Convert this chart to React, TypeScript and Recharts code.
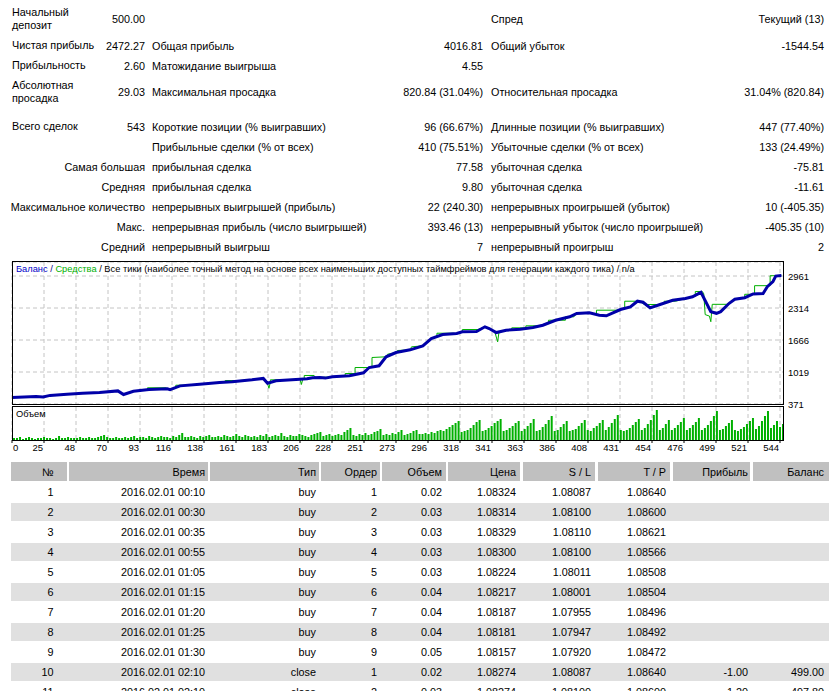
import React from "react";
import { LineChart, Line, ComposedChart, Bar, XAxis, YAxis, CartesianGrid } from "recharts";

const FONT = '"Liberation Sans", Arial, sans-serif';

// Balance curve: trade number -> account balance
const balanceTrade = [
  0, 17, 22, 27, 39, 50, 62, 75, 79, 86,
  97, 110, 112, 119, 133, 147, 156, 170, 178, 181,
  187, 204, 209, 213, 218, 222, 227, 239, 249, 253,
  260, 265, 272, 282, 291, 297, 305, 315, 319, 329,
  335, 338, 343, 350, 360, 369, 376, 385, 395, 400,
  409, 416, 421, 431, 438, 443, 447, 452, 459, 468,
  477, 482, 488, 495, 499, 502, 508, 512, 519, 525,
  532, 535, 539, 541, 545,
];
const balanceValue = [
  500, 525, 515, 545, 568, 588, 604, 636, 563, 628,
  662, 680, 660, 738, 770, 805, 820, 860, 888, 790,
  840, 873, 880, 900, 907, 895, 921, 941, 1002, 1109,
  1144, 1326, 1413, 1467, 1548, 1696, 1777, 1797, 1832, 1838,
  1933, 1898, 1817, 1864, 1884, 1919, 1965, 2066, 2135, 2202,
  2216, 2168, 2155, 2283, 2337, 2451, 2430, 2317, 2384, 2471,
  2505, 2540, 2631, 2239, 2206, 2239, 2409, 2490, 2522, 2597,
  2605, 2745, 2850, 2960, 2972,
];

// Equity curve (floating result while positions are open)
const equityTrade = [
  0, 17, 22, 27, 39, 50, 62, 75, 79, 86,
  96, 96, 109, 110, 112, 116, 116, 122, 133, 147,
  151, 151, 161, 170, 178, 181, 182, 183, 183, 189,
  204, 205, 206, 207, 207, 214, 215, 227, 236, 236,
  243, 243, 253, 255, 255, 265, 266, 272, 273, 282,
  283, 291, 297, 301, 301, 312, 315, 319, 319, 330,
  335, 338, 342, 344, 345, 350, 354, 354, 362, 364,
  364, 372, 376, 380, 380, 392, 392, 398, 400, 409,
  414, 414, 428, 431, 434, 434, 443, 445, 450, 450,
  459, 462, 462, 470, 477, 484, 484, 489, 490, 491,
  494, 495, 496, 506, 508, 512, 519, 519, 526, 526,
  537, 537, 542, 545,
];
const equityValue = [
  500, 525, 515, 545, 568, 588, 604, 636, 563, 628,
  660, 699, 699, 680, 660, 700, 751, 751, 770, 805,
  812, 846, 846, 860, 888, 780, 690, 810, 860, 860,
  873, 766, 878, 878, 948, 948, 903, 921, 937, 988,
  988, 1109, 1109, 1120, 1312, 1326, 1378, 1413, 1453, 1467,
  1528, 1548, 1696, 1740, 1803, 1803, 1797, 1832, 1878, 1878,
  1933, 1898, 1830, 1629, 1835, 1864, 1872, 1912, 1912, 1905,
  1953, 1953, 1965, 1995, 2066, 2066, 2135, 2135, 2202, 2216,
  2190, 2269, 2269, 2283, 2300, 2451, 2451, 2440, 2350, 2384,
  2384, 2410, 2451, 2451, 2505, 2550, 2647, 2647, 2600, 2180,
  2150, 2036, 2388, 2388, 2409, 2490, 2522, 2591, 2591, 2765,
  2765, 2967, 2967, 2972,
];

// Lot size of the deals, in trade order
const volumeLots = [
  0.02, 0.02, 0.03, 0.01, 0.02, 0.03, 0.02, 0.01, 0.02, 0.02, 0.03, 0.02, 0.02, 0.01, 0.02,
  0.04, 0.02, 0.02, 0.03, 0.02, 0.02, 0.02, 0.03, 0.02, 0.02, 0.03, 0.02, 0.02, 0.03, 0.04,
  0.05, 0.03, 0.02, 0.02, 0.03, 0.02, 0.02, 0.03, 0.02, 0.03, 0.04, 0.02, 0.03,
  0.03, 0.02, 0.04, 0.03, 0.02, 0.03, 0.04, 0.03, 0.03, 0.02, 0.04, 0.03, 0.05, 0.07, 0.03,
  0.03, 0.04, 0.03, 0.02, 0.04, 0.03, 0.04, 0.05, 0.03, 0.03, 0.04, 0.03, 0.05, 0.04, 0.03,
  0.04, 0.06, 0.04, 0.03, 0.05, 0.04, 0.03,
  0.04, 0.03, 0.05, 0.04, 0.06, 0.03, 0.04, 0.05, 0.04, 0.07, 0.04, 0.03, 0.05, 0.04, 0.04,
  0.06, 0.05, 0.04, 0.03, 0.05, 0.06, 0.07, 0.08, 0.04, 0.05, 0.06,
  0.04, 0.05, 0.06, 0.05, 0.08, 0.10, 0.12, 0.05, 0.04, 0.06, 0.05, 0.07, 0.05, 0.06, 0.08,
  0.09, 0.11, 0.05, 0.06, 0.05, 0.07, 0.06, 0.08, 0.10, 0.05, 0.06, 0.07, 0.09, 0.10, 0.06,
  0.06, 0.07, 0.06, 0.08, 0.07, 0.09, 0.10, 0.09, 0.11, 0.13, 0.15, 0.17, 0.19,
  0.08, 0.09, 0.10, 0.12, 0.15, 0.18, 0.20,
  0.09, 0.10, 0.12, 0.14, 0.17, 0.19, 0.21,
  0.09, 0.10, 0.12, 0.14, 0.17, 0.19,
  0.09, 0.11, 0.14, 0.17, 0.21,
  0.09, 0.10, 0.13, 0.16, 0.20, 0.24,
  0.09, 0.10, 0.13, 0.16, 0.19,
  0.09, 0.10, 0.11, 0.14, 0.17, 0.20,
  0.10, 0.09, 0.12, 0.14, 0.17, 0.20,
  0.10, 0.13, 0.17, 0.21, 0.25,
  0.10, 0.09, 0.10, 0.12, 0.15, 0.18, 0.21,
  0.10, 0.12, 0.16, 0.20, 0.25, 0.30,
  0.10, 0.12, 0.16, 0.20,
  0.10, 0.12, 0.15, 0.18, 0.22,
  0.10, 0.12, 0.15, 0.18, 0.22,
  0.10, 0.12, 0.15, 0.19, 0.24, 0.29,
  0.10, 0.11, 0.14, 0.17, 0.20,
  0.10, 0.09, 0.11, 0.13, 0.16, 0.19, 0.22,
  0.11, 0.14, 0.19, 0.24, 0.29,
  0.12, 0.15, 0.19, 0.13, 0.16,
];

const tradeTickLabels = [
  0, 25, 48, 70, 93, 116, 138, 161, 183, 206, 228, 251, 273,
  296, 318, 341, 363, 386, 408, 431, 454, 476, 499, 521, 544,
];
const balanceTicks = [371, 1018.5, 1666, 2313.5, 2961];

const statRows = [
  ["Начальный\nдепозит", "500.00", "", "", "Спред", "Текущий (13)"],
  ["Чистая прибыль", "2472.27", "Общая прибыль", "4016.81", "Общий убыток", "-1544.54"],
  ["Прибыльность", "2.60", "Матожидание выигрыша", "4.55", "", ""],
  ["Абсолютная\nпросадка", "29.03", "Максимальная просадка", "820.84 (31.04%)", "Относительная просадка", "31.04% (820.84)"],
  ["Всего сделок", "543", "Короткие позиции (% выигравших)", "96 (66.67%)", "Длинные позиции (% выигравших)", "447 (77.40%)"],
  ["", "", "Прибыльные сделки (% от всех)", "410 (75.51%)", "Убыточные сделки (% от всех)", "133 (24.49%)"],
  ["Самая большая", "", "прибыльная сделка", "77.58", "убыточная сделка", "-75.81"],
  ["Средняя", "", "прибыльная сделка", "9.80", "убыточная сделка", "-11.61"],
  ["Максимальное количество", "", "непрерывных выигрышей (прибыль)", "22 (240.30)", "непрерывных проигрышей (убыток)", "10 (-405.35)"],
  ["Макс.", "", "непрерывная прибыль (число выигрышей)", "393.46 (13)", "непрерывный убыток (число проигрышей)", "-405.35 (10)"],
  ["Средний", "", "непрерывный выигрыш", "7", "непрерывный проигрыш", "2"],
];
const statRowY = [19, 46, 66, 92, 127, 147, 167, 187, 207, 227, 247];

const dealHeader = ["№", "Время", "Тип", "Ордер", "Объем", "Цена", "S / L", "T / P", "Прибыль", "Баланс"];
const dealRows = [
  ["1", "2016.02.01 00:10", "buy", "1", "0.02", "1.08324", "1.08087", "1.08640", "", ""],
  ["2", "2016.02.01 00:30", "buy", "2", "0.03", "1.08314", "1.08100", "1.08600", "", ""],
  ["3", "2016.02.01 00:35", "buy", "3", "0.03", "1.08329", "1.08110", "1.08621", "", ""],
  ["4", "2016.02.01 00:55", "buy", "4", "0.03", "1.08300", "1.08100", "1.08566", "", ""],
  ["5", "2016.02.01 01:05", "buy", "5", "0.03", "1.08224", "1.08011", "1.08508", "", ""],
  ["6", "2016.02.01 01:15", "buy", "6", "0.04", "1.08217", "1.08001", "1.08504", "", ""],
  ["7", "2016.02.01 01:20", "buy", "7", "0.04", "1.08187", "1.07955", "1.08496", "", ""],
  ["8", "2016.02.01 01:25", "buy", "8", "0.04", "1.08181", "1.07947", "1.08492", "", ""],
  ["9", "2016.02.01 01:30", "buy", "9", "0.05", "1.08157", "1.07920", "1.08472", "", ""],
  ["10", "2016.02.01 02:10", "close", "1", "0.02", "1.08274", "1.08087", "1.08640", "-1.00", "499.00"],
  ["11", "2016.02.01 02:10", "close", "2", "0.03", "1.08274", "1.08100", "1.08600", "-1.20", "497.80"],
];

// column boxes of the deals table
const colLeft = [11, 69, 210, 320.5, 382, 448.3, 522.7, 597.7, 672.7, 752.7];
const colRight = [67, 208, 318.5, 379.7, 445.7, 520, 595, 670, 750, 829];
const colTextRight = [53.5, 205, 316, 377, 442, 516, 591, 666, 748, 824];

const W = 829;
const X_MAX = 546.83;
const Y_MAX = 3244.3;
const tradeTicks = tradeTickLabels.map((_, i) => (i * 544) / 24);

const balanceData = balanceTrade.map((n, i) => ({ n, v: balanceValue[i] }));
const equityData = equityTrade.map((n, i) => ({ n, v: equityValue[i] }));
// bars are spread evenly over the deal sequence
const volumeData = volumeLots.map((lots, i) => ({ n: ((i + 0.5) * X_MAX) / volumeLots.length, lots }));

function Txt({ x, y, text, align = "left", lh = 14 }: { x: number; y: number; text: string; align?: string; lh?: number }) {
  const lines = text.split("\n").length;
  const style: React.CSSProperties = {
    position: "absolute",
    top: y - (lines * lh) / 2,
    lineHeight: lh + "px",
    whiteSpace: "pre",
  };
  if (align === "right") {
    style.right = W - x;
    style.textAlign = "right";
  } else style.left = x;
  return <div style={style}>{text}</div>;
}

function StatsTable() {
  return (
    <>
      {statRows.map((r, k) => {
        const y = statRowY[k];
        const wide = k >= 6;
        return (
          <React.Fragment key={k}>
            {wide ? <Txt x={145} y={y} text={r[0]} align="right" /> : <Txt x={12} y={y} text={r[0]} lh={13.4} />}
            <Txt x={145} y={y} text={r[1]} align="right" />
            <Txt x={152} y={y} text={r[2]} />
            <Txt x={483} y={y} text={r[3]} align="right" />
            <Txt x={491} y={y} text={r[4]} />
            <Txt x={824} y={y} text={r[5]} align="right" />
          </React.Fragment>
        );
      })}
    </>
  );
}

const RightTick = (props: any) => (
  <text x={props.x} y={props.y} dy={3.5} fontSize={9.5} fontFamily={FONT} fill="#000" textAnchor="start">
    {Math.round(props.payload.value)}
  </text>
);

const TradeTick = (props: any) => {
  const first = props.index === 0;
  return (
    <g>
      <line x1={props.x} x2={props.x} y1={props.y - 3} y2={props.y} stroke="#000" />
      <text x={first ? props.x + 1 : props.x - 1} y={props.y} dy={8} fontSize={9.5} fontFamily={FONT} fill="#000" textAnchor={first ? "start" : "end"}>
        {tradeTickLabels[props.index]}
      </text>
    </g>
  );
};

// vertical grid lines at every trade tick across the plot width
const tradeGrid = ({ offset }: any) => tradeTicks.map((t) => offset.left + (t / X_MAX) * offset.width);

function BalanceChart() {
  return (
    <>
      <div style={{ position: "absolute", left: 0, top: 255 }}>
        <LineChart width={W} height={160} margin={{ top: 7, right: 0, bottom: 11, left: 12 }}>
          <CartesianGrid stroke="#c4c4c4" strokeDasharray="4 3" verticalCoordinatesGenerator={tradeGrid} />
          <XAxis type="number" dataKey="n" domain={[0, X_MAX]} ticks={tradeTicks} interval={0} allowDataOverflow hide />
          <YAxis
            orientation="right"
            width={45}
            domain={[371, Y_MAX]}
            ticks={balanceTicks}
            interval={0}
            allowDataOverflow
            axisLine={false}
            tickLine={false}
            tickSize={0}
            tickMargin={4}
            tick={RightTick}
          />
          <Line data={equityData} dataKey="v" type="linear" stroke="#00b000" strokeWidth={1} dot={false} isAnimationActive={false} />
          <Line data={balanceData} dataKey="v" type="linear" stroke="#0000a8" strokeWidth={3} dot={false} isAnimationActive={false} />
        </LineChart>
      </div>
      <div style={{ position: "absolute", left: 12, top: 261, width: 772, height: 144, border: "1px solid #000", boxSizing: "border-box" }} />
      <div style={{ position: "absolute", left: 16, top: 263, fontSize: 9.3, lineHeight: "12px", whiteSpace: "pre" }}>
        <span style={{ color: "#0000c8" }}>Баланс</span>
        <span style={{ color: "#000080" }}> / </span>
        <span style={{ color: "#00b000" }}>Средства</span>
        <span> / Все тики (наиболее точный метод на основе всех наименьших доступных таймфреймов для генерации каждого тика) / n/a</span>
      </div>

      <div style={{ position: "absolute", left: 0, top: 400 }}>
        <ComposedChart width={W} height={62} data={volumeData} margin={{ top: 7, right: 45, bottom: 0, left: 12 }}>
          <CartesianGrid horizontal={false} stroke="#c4c4c4" strokeDasharray="4 3" verticalCoordinatesGenerator={tradeGrid} />
          <XAxis
            type="number"
            dataKey="n"
            domain={[0, X_MAX]}
            ticks={tradeTicks}
            interval={0}
            allowDataOverflow
            height={22}
            axisLine={false}
            tickSize={3}
            tickMargin={0}
            tickLine={false}
            tick={TradeTick}
          />
          <YAxis domain={[0, 0.33]} hide />
          <Bar dataKey="lots" fill="#00b000" barSize={2} isAnimationActive={false} />
        </ComposedChart>
      </div>
      <div style={{ position: "absolute", left: 12, top: 406, width: 772, height: 35, border: "1px solid #000", boxSizing: "border-box" }} />
      <div style={{ position: "absolute", left: 16, top: 408, fontSize: 9.3, lineHeight: "12px" }}>Объем</div>
    </>
  );
}

function DealsTable() {
  const rowTop = (k: number) => 482.5 + k * 20;
  return (
    <>
      {dealHeader.map((h, c) => (
        <div key={"h" + c} style={{ position: "absolute", left: colLeft[c], top: 462.3, width: colRight[c] - colLeft[c], height: 18.4, background: "#c0c0c0" }} />
      ))}
      {dealHeader.map((h, c) => (
        <Txt key={"ht" + c} x={colTextRight[c]} y={471.5} text={h} align="right" />
      ))}
      {dealRows.map((r, k) => (
        <React.Fragment key={k}>
          {k % 2 === 1 && (
            <div style={{ position: "absolute", left: 11, top: rowTop(k), width: W - 11, height: 18, background: "#e0e0e0" }} />
          )}
          {r.map((v, c) => (v ? <Txt key={c} x={colTextRight[c]} y={rowTop(k) + 9} text={v} align="right" /> : null))}
        </React.Fragment>
      ))}
    </>
  );
}

export default function App() {
  return (
    <div
      style={{
        position: "absolute",
        left: 0,
        top: 0,
        width: W,
        height: 691,
        overflow: "hidden",
        background: "#fff",
        fontFamily: FONT,
        fontSize: 10.8,
        color: "#000",
      }}
    >
      <StatsTable />
      <BalanceChart />
      <DealsTable />
    </div>
  );
}
